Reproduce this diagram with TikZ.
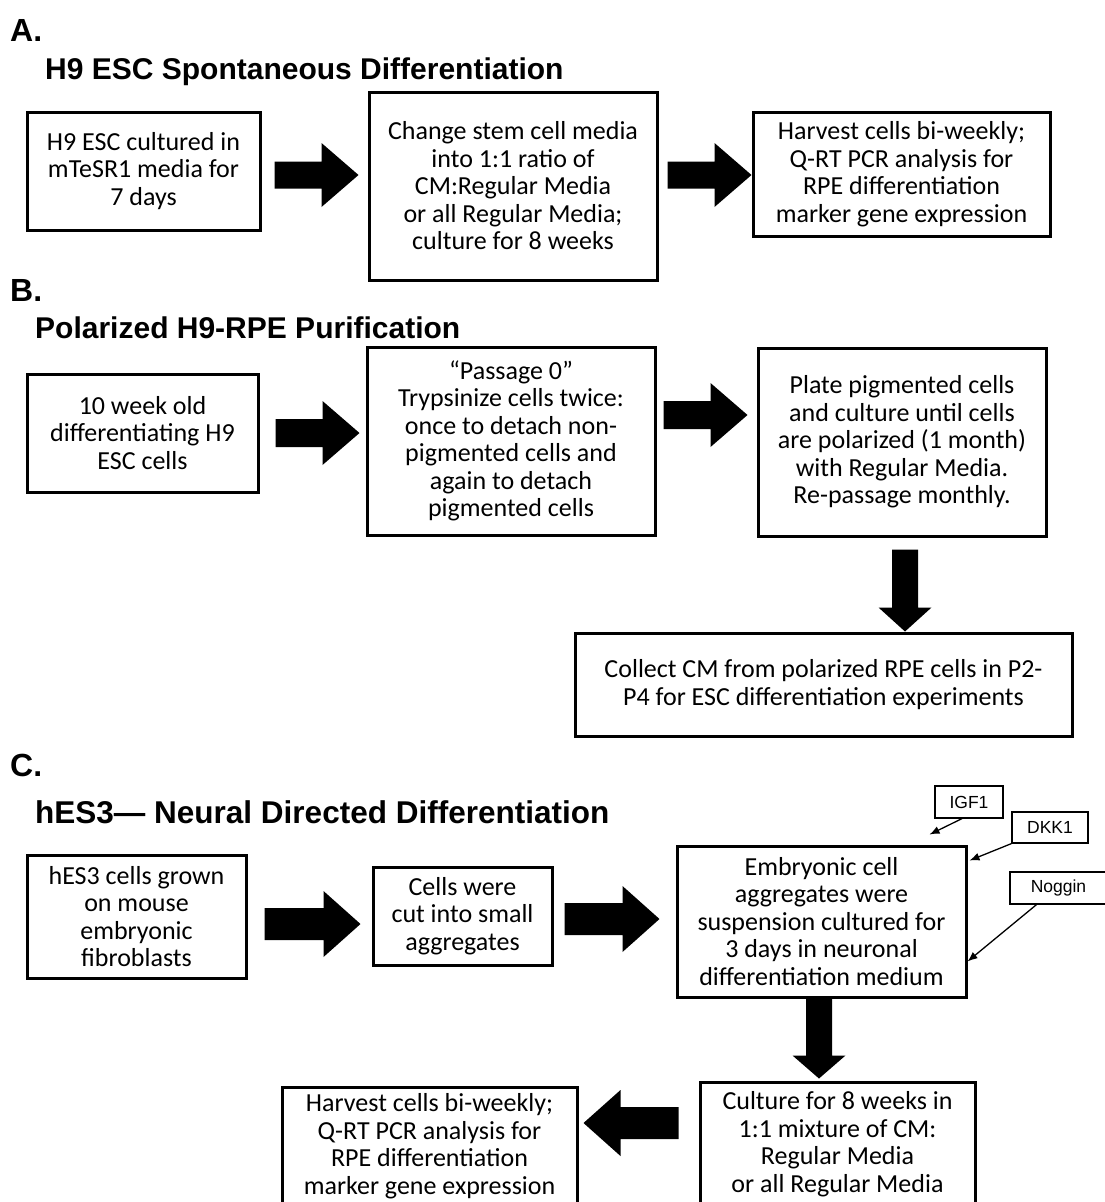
\documentclass[tikz,border=0pt]{standalone}
\usepackage{fontspec}
\setmainfont{Carlito}
\newfontfamily\hdr{Liberation Sans}
\usetikzlibrary{arrows.meta}
\begin{document}
\begin{tikzpicture}[x=1pt,y=-1pt,
  box/.style={draw,line width=3pt,align=center,inner sep=0pt,
    font=\fontsize{26}{27.5}\selectfont},
  ttl/.style={anchor=west,inner sep=0pt,font=\hdr\bfseries\fontsize{30}{32}\selectfont},
  sec/.style={anchor=west,inner sep=0pt,font=\hdr\bfseries\fontsize{32}{34}\selectfont},
  tag/.style={draw,line width=1.2pt,inner sep=0pt,font=\hdr\fontsize{17.5}{19}\selectfont},
  lab/.style={line width=1.3pt,-{Latex[length=10pt,width=8pt]}},
  pics/blockarrow/.style args={#1/#2/#3/#4}{code={
    \fill (0,-#2/2) -- (#1-#4,-#2/2) -- (#1-#4,-#3/2) -- (#1,0)
      -- (#1-#4,#3/2) -- (#1-#4,#2/2) -- (0,#2/2) -- cycle;}}
]
\useasboundingbox (0,0) rectangle (1105,1202);
\clip (0,0) rectangle (1105,1202);

% ---- A ----
\node[sec] (secA) at (10,30) {A.};
\node[ttl] (ttlA) at (45,72) {H9 ESC Spontaneous Differentiation};
\node[box,minimum width=233pt,minimum height=118pt] (A1) at (143.5,171)
  {H9 ESC cultured in\\mTeSR1 media for\\7 days};
\node[box,minimum width=288pt,minimum height=188pt] (A2) at (513,186)
  {Change stem cell media\\into 1:1 ratio of\\CM:Regular Media\\or all Regular Media;\\culture for 8 weeks};
\node[box,minimum width=297pt,minimum height=124pt] (A3) at (901.5,174)
  {Harvest cells bi-weekly;\\Q-RT PCR analysis for\\RPE differentiation\\marker gene expression};
\path (A1.east) ++(13,4) pic {blockarrow=84/27/64/37};
\path (A2.east) ++(9,-11) pic {blockarrow=84/27/64/37};

% ---- B ----
\node[sec] (secB) at (10,290) {B.};
\node[ttl] (ttlB) at (35,328) {Polarized H9-RPE Purification};
\node[box,minimum width=231pt,minimum height=118pt] (B1) at (142.5,433)
  {10 week old\\differentiating H9\\ESC cells};
\node[box,minimum width=288pt,minimum height=188pt] (B2) at (511,441)
  {“Passage 0”\\Trypsinize cells twice:\\once to detach non-\\pigmented cells and\\again to detach\\pigmented cells};
\node[box,minimum width=288pt,minimum height=188pt] (B3) at (902,442)
  {Plate pigmented cells\\and culture until cells\\are polarized (1 month)\\with Regular Media.\\Re-passage monthly.};
\node[box,minimum width=497pt,minimum height=103pt] (B4) at (823.5,684.5)
  {Collect CM from polarized RPE cells in P2-\\P4 for ESC differentiation experiments};
\path (B1.east) ++(16,0) pic {blockarrow=84/28/64/37};
\path (B2.east) ++(7,-26) pic {blockarrow=84/28/64/37};
\path (B3.south) ++(3,12) pic[rotate=-90] {blockarrow=82/26/53/24};

% ---- C ----
\node[sec] (secC) at (10,765) {C.};
\node[ttl,font=\hdr\bfseries\fontsize{31.5}{33}\selectfont] (ttlC) at (35,812) {hES3— Neural Directed Differentiation};
\node[box,minimum width=219pt,minimum height=123pt] (C1) at (136.5,916.5)
  {hES3 cells grown\\on mouse\\embryonic\\fibroblasts};
\node[box,minimum width=179pt,minimum height=98pt] (C2) at (462.5,916)
  {Cells were\\cut into small\\aggregates};
\node[box,minimum width=289pt,minimum height=151pt] (C3) at (821.5,921.5)
  {Embryonic cell\\aggregates were\\suspension cultured for\\3 days in neuronal\\differentiation medium};
\node[box,minimum width=275pt,minimum height=124pt] (C4) at (837.5,1144)
  {Culture for 8 weeks in\\1:1 mixture of CM:\\Regular Media\\or all Regular Media};
\node[box,minimum width=295pt,minimum height=118pt] (C5) at (429.5,1146)
  {Harvest cells bi-weekly;\\Q-RT PCR analysis for\\RPE differentiation\\marker gene expression};
\path (C1.east) ++(17,7.5) pic {blockarrow=96/32/66/37};
\path (C2.east) ++(11,3) pic {blockarrow=95/32/66/37};
\path (C3.south) ++(-2.5,0) pic[rotate=-90] {blockarrow=80/26/53/23};
\path (C4.west) ++(-20,-21) pic[rotate=180] {blockarrow=95/32/66/37};

\node[tag,minimum width=68pt,minimum height=32pt] (IGF1) at (969,802) {IGF1};
\node[tag,minimum width=76pt,minimum height=31pt] (DKK1) at (1050,827.5) {DKK1};
\node[tag,minimum width=97pt,minimum height=32pt] (Nog) at (1058.5,888) {Noggin};
\draw[lab] ([xshift=-7pt]IGF1.south) -- ([shift={(-38,-10)}]C3.north east);
\draw[lab] (DKK1.south west) -- ([shift={(2,16)}]C3.north east);
\draw[lab] ([xshift=-22pt]Nog.south) -- ([shift={(0,40)}]C3.east);
\end{tikzpicture}
\end{document}
